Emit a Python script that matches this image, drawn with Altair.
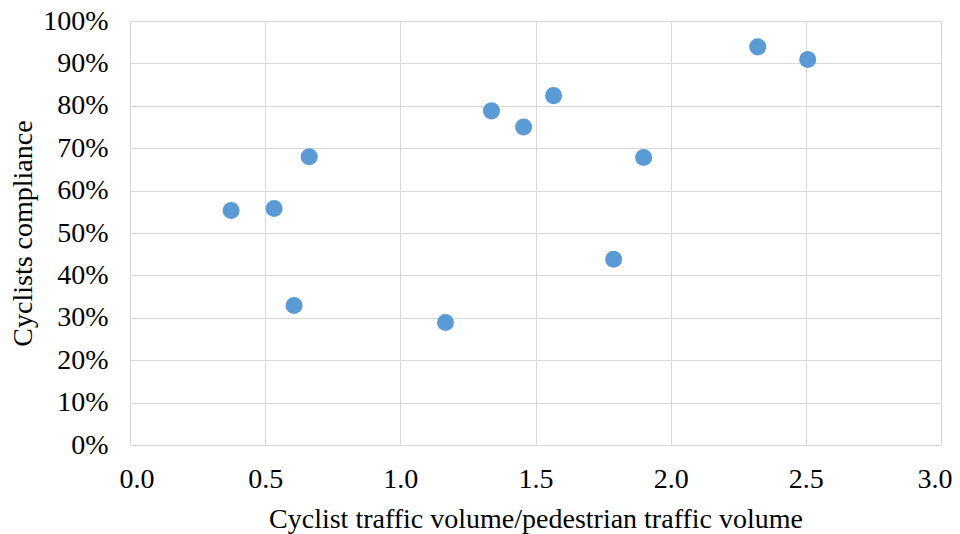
import altair as alt
import pandas as pd

ratio = [0.374, 0.533, 0.663, 0.607, 1.167, 1.337, 1.456, 1.567, 1.789, 1.900, 2.322, 2.507]
compliance = [0.553, 0.558, 0.680, 0.329, 0.289, 0.788, 0.750, 0.824, 0.438, 0.678, 0.939, 0.909]

df = pd.DataFrame({"ratio": ratio, "compliance": compliance})

FONT = "Liberation Serif"

chart = alt.Chart(df).mark_circle(size=290, opacity=1, color="#5B9BD5").encode(
    x=alt.X("ratio:Q",
            scale=alt.Scale(domain=[0, 3], nice=False, zero=True),
            axis=alt.Axis(title="Cyclist traffic volume/pedestrian traffic volume",
                          values=[0, 0.5, 1.0, 1.5, 2.0, 2.5, 3.0],
                          format=".1f", labelPadding=20, titlePadding=12,
                          labelFlush=True, labelFlushOffset=11)),
    y=alt.Y("compliance:Q",
            scale=alt.Scale(domain=[0, 1], nice=False),
            axis=alt.Axis(title="Cyclists compliance",
                          values=[i / 10 for i in range(11)],
                          format=".0%", labelPadding=22, titlePadding=5,
                          labelFlush=False)),
).properties(
    width=811, height=424,
    padding={"left": 122, "top": 13, "right": 11, "bottom": 90},
    autosize=alt.AutoSizeParams(type="none"),
).configure_axis(
    labelFont=FONT, titleFont=FONT, labelFontSize=28, titleFontSize=28,
    labelColor="#000000", titleColor="#000000", titleFontWeight="normal",
    grid=True, gridColor="#d9d9d9", gridWidth=1,
    domain=False, ticks=False,
).configure_view(stroke=None)

chart.save("out.html", embed_options={"renderer": "svg", "actions": False})
